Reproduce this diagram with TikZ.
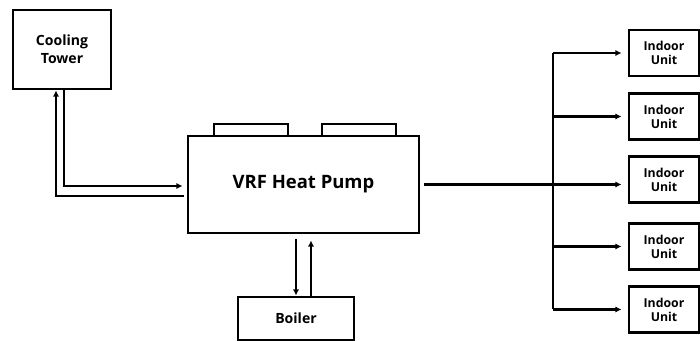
\documentclass[tikz,border=0pt]{standalone}
\usepackage{fontspec}
\setsansfont{Open Sans}
\usetikzlibrary{arrows.meta, positioning}

\begin{document}
\begin{tikzpicture}[
    unitbox/.style={draw, line width=1.6pt, align=center, inner sep=0pt,
      font=\sffamily\bfseries\fontsize{8}{10}\selectfont},
    pipe/.style={line width=1.3pt},
    flow/.style={pipe, -{Latex[length=3.5pt,width=3.5pt]}}
  ]
      \useasboundingbox (0,0) rectangle (14,6.82);

      % main units
      \node[unitbox, minimum width=1.96cm, minimum height=1.58cm]
        (tower) at (1.24, 5.83) {Cooling\\Tower};
      \node[unitbox, minimum width=4.62cm, minimum height=1.94cm,
        font=\sffamily\bfseries\fontsize{10.5}{12}\selectfont]
        (vrf) at (6.07, 3.13) {VRF Heat Pump};
      \draw[line width=1.6pt] (4.28, 4.10) |- (5.76, 4.34) -- (5.76, 4.10);
      \draw[line width=1.6pt] (6.44, 4.10) |- (7.92, 4.34) -- (7.92, 4.10);
      \node[unitbox, minimum width=2.32cm, minimum height=0.86cm]
        (boiler) at (5.92, 0.45) {Boiler};

      % indoor units
      \foreach \i/\y in {1/5.76, 2/4.49, 3/3.23, 4/1.89, 5/0.63}
        \node[unitbox, minimum width=1.40cm, minimum height=0.92cm,
          font=\sffamily\bfseries\fontsize{7}{8}\selectfont]
          (iu\i) at (13.28, \y) {Indoor\\Unit};

      % cooling tower loop
      \draw[flow, shorten >=0.08cm]
        ([xshift=0.04cm]tower.south) |- ([yshift=-0.03cm]vrf.west);
      \draw[flow]
        ([xshift=-0.06cm, yshift=-0.23cm]vrf.west) -| ([xshift=-0.12cm]tower.south);

      % boiler loop
      \draw[flow, shorten <=0.1cm] (vrf.south -| boiler.north) -- (boiler.north);
      \draw[flow, shorten >=0.12cm]
        ([xshift=0.30cm]boiler.north) -- ([xshift=0.30cm]boiler.north |- vrf.south);

      % distribution to indoor units
      \coordinate (trunk) at (11.06, 0);
      \draw[pipe] ([xshift=0.08cm]vrf.east) -- (vrf.east -| trunk);
      \draw[pipe] (trunk |- iu1.west) -- (trunk |- iu5.west);
      \foreach \i in {1, 2, 4, 5}
        \draw[flow, shorten >=0.12cm] (trunk |- iu\i.west) -- (iu\i.west);
      \draw[flow, shorten >=0.12cm] (vrf.east -| trunk) -- (vrf.east -| iu3.west);
    \end{tikzpicture}
\end{document}
